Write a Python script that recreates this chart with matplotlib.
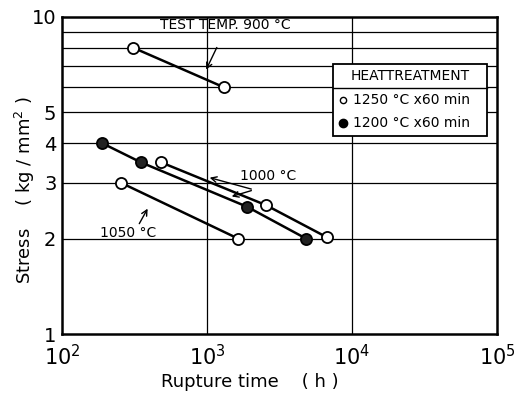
import matplotlib
matplotlib.use("Agg")
import matplotlib.pyplot as plt
from matplotlib.patches import Rectangle

# Data (rupture time h, stress kg/mm2)
t900 = [310, 1310]
s900 = [8.0, 6.0]
t1000_open = [482, 2550, 6700]
s1000_open = [3.48, 2.55, 2.02]
t1000_fill = [189, 350, 1890, 4820]
s1000_fill = [4.0, 3.48, 2.52, 2.0]
t1050 = [255, 1637]
s1050 = [3.0, 2.0]

yticks = [1, 2, 3, 4, 5, 6, 7, 8, 9, 10]
ylabels = ['1', '2', '3', '4', '5', '', '', '', '', '10']
xticks = [1e2, 1e3, 1e4, 1e5]
xlabels = ['10$^2$', '10$^3$', '10$^4$', '10$^5$']

fig = plt.figure(figsize=(5.14, 3.94), dpi=100)
ax = fig.add_axes([62/514, 1-334/394, 435/514, 317/394])
ax.set_xscale('log')
ax.set_yscale('log')
ax.set_xlim(1e2, 1e5)
ax.set_ylim(1, 10)
ax.minorticks_off()
ax.set_yticks(yticks)
ax.set_yticklabels(ylabels, fontsize=14)
ax.set_xticks(xticks)
ax.set_xticklabels(xlabels, fontsize=15)
ax.tick_params(length=0, pad=4)
ax.tick_params(axis='x', pad=7)
for v in yticks[1:-1]:
    ax.axhline(v, color='black', lw=0.9, zorder=1)
for v in [1e3, 1e4]:
    ax.axvline(v, color='black', lw=0.9, zorder=1)
for sp in ax.spines.values():
    sp.set_linewidth(1.8)

lw = 1.8
ms = 8
ax.plot(t900, s900, '-o', color='black', lw=lw, ms=ms, mfc='white', mec='black', mew=1.3, zorder=3)
ax.plot(t1000_open, s1000_open, '-o', color='black', lw=lw, ms=ms, mfc='white', mec='black', mew=1.3, zorder=3)
ax.plot(t1000_fill, s1000_fill, '-o', color='black', lw=lw, ms=ms, mfc='#222222', mec='black', mew=1.3, zorder=3)
ax.plot(t1050, s1050, '-o', color='black', lw=lw, ms=ms, mfc='white', mec='black', mew=1.3, zorder=3)

# annotations
ax.text(474, 9.0, 'TEST TEMP. 900 \u00b0C', fontsize=10, va='bottom', ha='left')
ax.annotate('', xy=(968, 6.7), xytext=(1191, 8.16),
            arrowprops=dict(arrowstyle='->', color='black', lw=1.0))
ax.text(1690, 2.99, '1000 \u00b0C', fontsize=10, va='bottom', ha='left')
ax.annotate('', xy=(1000, 3.13), xytext=(2109, 2.85),
            arrowprops=dict(arrowstyle='->', color='black', lw=1.0))
ax.annotate('', xy=(1419, 2.70), xytext=(2109, 2.85),
            arrowprops=dict(arrowstyle='->', color='black', lw=1.0))
ax.text(183, 1.98, '1050 \u00b0C', fontsize=10, va='bottom', ha='left')
ax.annotate('', xy=(398, 2.53), xytext=(334, 2.19),
            arrowprops=dict(arrowstyle='->', color='black', lw=1.0))

# legend box (manual)
tr = ax.transAxes
ax.add_patch(Rectangle((0.623, 0.625), 0.354, 0.227, transform=tr, fill=True,
                       facecolor='white', edgecolor='black', lw=1.3, zorder=5))
ax.plot([0.623, 0.977], [0.776, 0.776], transform=tr, color='black', lw=1.0, zorder=6)
ax.text(0.80, 0.813, 'HEATTREATMENT', transform=tr, fontsize=10, ha='center', va='center', zorder=6)
ax.plot([0.646], [0.738], 'o', transform=tr, ms=4.5, mfc='white', mec='black', mew=1.0, zorder=6)
ax.plot([0.646], [0.666], 'o', transform=tr, ms=6, mfc='black', mec='black', zorder=6)
ax.text(0.669, 0.738, '1250 \u00b0C x60 min', transform=tr, fontsize=10, ha='left', va='center', zorder=6)
ax.text(0.669, 0.666, '1200 \u00b0C x60 min', transform=tr, fontsize=10, ha='left', va='center', zorder=6)

fig.text(25/514, 1-190/394, 'Stress    ( kg / mm$^2$ )', rotation=90, fontsize=13,
         ha='center', va='center')
fig.text(250/514, 1-382/394, 'Rupture time    ( h )', fontsize=13, ha='center', va='center')

fig.savefig('out.png', dpi=100)
